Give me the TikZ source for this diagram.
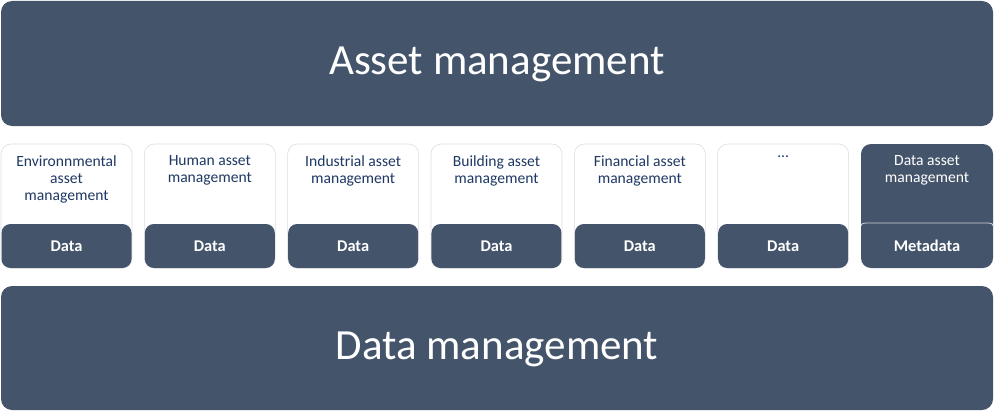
\documentclass[tikz,border=0pt]{standalone}
\usepackage{fontspec}
\setmainfont{Carlito}
\definecolor{slate}{HTML}{44546A}
\definecolor{navytext}{HTML}{1F3864}
\definecolor{edgegray}{HTML}{DDDDDD}
\tikzset{
  bigbox/.style={fill=slate, rounded corners=11pt},
  colbox/.style={fill=white, draw=edgegray, line width=0.6pt, rounded corners=10pt},
  darkcol/.style={fill=slate, rounded corners=10pt},
  databand/.style={fill=slate, rounded corners=9pt},
  bigtext/.style={text=white, font=\fontsize{43}{47}\selectfont, inner sep=0pt},
  coltext/.style={text=navytext, font=\fontsize{15.6}{17}\selectfont, align=center, anchor=north, inner sep=0pt},
  coltextw/.style={coltext, text=white},
  datatext/.style={text=white, font=\fontsize{16.4}{18}\selectfont\bfseries, inner sep=0pt}
}
\begin{document}
\begin{tikzpicture}[x=1pt,y=-1pt]
\useasboundingbox (0,0) rectangle (995,412);
% big boxes
\path[bigbox] (1,1) rectangle (993,126);
\node[bigtext] (am) at (497,64) {Asset management};
\path[bigbox] (1,286) rectangle (993,410);
\node[bigtext] (dm) at (497,349) {Data management};
% columns
\foreach \i/\txt in {0/{Environnmental\\asset\\management},1/{Human asset\\management},2/{Industrial asset\\management},3/{Building asset\\management},4/{Financial asset\\management},5/{...}} {
  \pgfmathsetmacro{\xl}{1+143.33*\i}
  \pgfmathsetmacro{\xr}{\xl+131}
  \pgfmathsetmacro{\xc}{\xl+65.5}
  \path[colbox] (\xl,144) rectangle (\xr,268);
  \path[databand] (\xl+0.5,224) rectangle (\xr-0.5,268);
  \node[coltext] (c\i) at (\xc,155.5) {\txt};
  \node[datatext] (d\i) at (\xc,246) {Data};
}
% last column
\path[darkcol] (861,144) rectangle (993,268);
\draw[white!75!slate, line width=0.8pt] (861,226) .. controls (861,223) and (864,223) .. (870,223) -- (984,223) .. controls (990,223) and (993,223) .. (993,226);
\node[coltextw] (c6) at (927,155.5) {Data asset\\management};
\node[datatext] (d6) at (927,246) {Metadata};
\end{tikzpicture}
\end{document}
